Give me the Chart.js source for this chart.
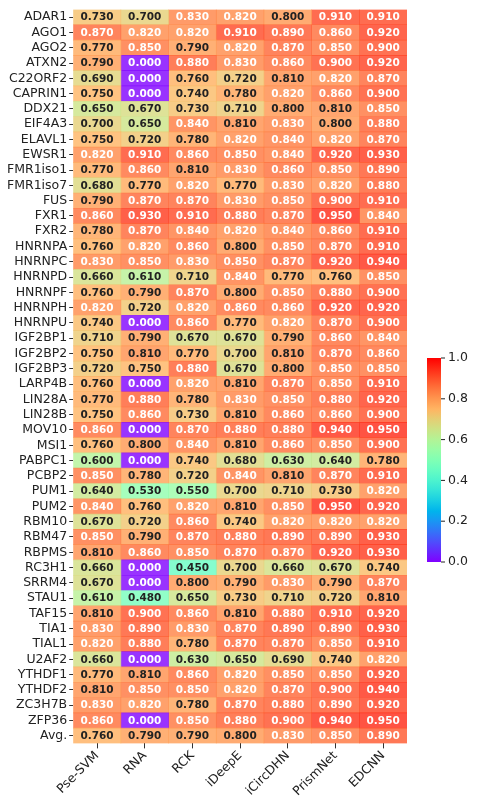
<!DOCTYPE html>
<html><head><meta charset="utf-8">
<script src="https://cdn.jsdelivr.net/npm/chart.js@4/dist/chart.umd.min.js"></script>
<style>html,body{margin:0;padding:0;background:#fff}#w{width:482px;height:799px}</style>
</head><body><div id="w"><canvas id="c"></canvas></div>
<script>
const rows=["ADAR1","AGO1","AGO2","ATXN2","C22ORF2","CAPRIN1","DDX21","EIF4A3","ELAVL1","EWSR1","FMR1iso1","FMR1iso7","FUS","FXR1","FXR2","HNRNPA","HNRNPC","HNRNPD","HNRNPF","HNRNPH","HNRNPU","IGF2BP1","IGF2BP2","IGF2BP3","LARP4B","LIN28A","LIN28B","MOV10","MSI1","PABPC1","PCBP2","PUM1","PUM2","RBM10","RBM47","RBPMS","RC3H1","SRRM4","STAU1","TAF15","TIA1","TIAL1","U2AF2","YTHDF1","YTHDF2","ZC3H7B","ZFP36","Avg."];
const methods=["Pse-SVM","RNA","RCK","iDeepE","iCircDHN","PrismNet","EDCNN"];
const PseSVM=[.73,.87,.77,.79,.69,.75,.65,.70,.75,.82,.77,.68,.79,.86,.78,.76,.83,.66,.76,.82,.74,.71,.75,.72,.76,.77,.75,.86,.76,.60,.85,.64,.84,.67,.85,.81,.66,.67,.61,.81,.83,.82,.66,.77,.81,.83,.86,.76];
const RNA=[.70,.82,.85,0,0,0,.67,.65,.72,.91,.86,.77,.87,.93,.87,.82,.85,.61,.79,.72,0,.79,.81,.75,0,.88,.86,0,.80,0,.78,.53,.76,.72,.79,.86,0,0,.48,.90,.89,.88,0,.81,.85,.82,0,.79];
const RCK=[.83,.82,.79,.88,.76,.74,.73,.84,.78,.86,.81,.82,.87,.91,.84,.86,.83,.71,.87,.82,.86,.67,.77,.88,.82,.78,.73,.87,.84,.74,.72,.55,.82,.86,.87,.85,.45,.80,.65,.86,.83,.78,.63,.86,.85,.78,.85,.79];
const iDeepE=[.82,.91,.82,.83,.72,.78,.71,.81,.82,.85,.83,.77,.83,.88,.82,.80,.85,.84,.80,.86,.77,.67,.70,.67,.81,.83,.81,.88,.81,.68,.84,.70,.81,.74,.88,.87,.70,.79,.73,.81,.87,.87,.65,.82,.82,.87,.88,.80];
const iCircDHN=[.80,.89,.87,.86,.81,.82,.80,.83,.84,.84,.86,.83,.85,.87,.84,.85,.87,.77,.85,.86,.82,.79,.81,.80,.87,.85,.86,.88,.86,.63,.81,.71,.85,.82,.89,.87,.66,.83,.71,.88,.89,.87,.69,.85,.87,.88,.90,.83];
const PrismNet=[.91,.86,.85,.90,.82,.86,.81,.80,.82,.92,.85,.82,.90,.95,.86,.87,.92,.76,.88,.92,.87,.86,.87,.85,.85,.88,.86,.94,.85,.64,.87,.73,.95,.82,.89,.92,.67,.79,.72,.91,.89,.85,.74,.85,.90,.89,.94,.85];
const EDCNN=[.91,.92,.90,.92,.87,.90,.85,.88,.87,.93,.89,.88,.91,.84,.91,.91,.94,.85,.90,.92,.90,.84,.86,.85,.91,.92,.90,.95,.90,.78,.91,.82,.92,.82,.93,.93,.74,.87,.81,.92,.93,.91,.82,.92,.94,.92,.95,.89];
const cols=[PseSVM,RNA,RCK,iDeepE,iCircDHN,PrismNet,EDCNN];
const cbTicks=["0.0","0.2","0.4","0.6","0.8","1.0"];

function rainbow(x,a){const r=Math.min(1,Math.abs(2*x-0.5)),g=Math.sin(Math.PI*x),b=Math.cos(Math.PI*x/2);
 return `rgba(${Math.round(r*255)},${Math.round(g*255)},${Math.round(Math.max(0,b)*255)},${a})`;}
const FONT="'DejaVu Sans'";
const datasets=cols.map((vals,i)=>({label:methods[i],data:vals.map(()=>[i,i+1]),vals,
 backgroundColor:ctx=>rainbow(vals[ctx.dataIndex],0.8),borderWidth:0,grouped:false,barPercentage:1,categoryPercentage:1}));

const plug={id:'p',afterDatasetsDraw(ch){const c=ch.ctx;c.save();
 c.font=`bold 10.5px ${FONT}`;c.textAlign='center';c.textBaseline='middle';
 ch.data.datasets.forEach((ds,di)=>{ch.getDatasetMeta(di).data.forEach((el,j)=>{const v=ds.vals[j];
  c.fillStyle=(v===0||v>=0.815)?'#fff':'#222';c.fillText(v.toFixed(3),(el.x+el.base)/2,el.y+0.5);});});
 const x0=427,w=14,yt=358,yb=562;
 const g=c.createLinearGradient(0,yb,0,yt);for(let k=0;k<=20;k++)g.addColorStop(k/20,rainbow(k/20,1));
 c.fillStyle=g;c.fillRect(x0,yt,w,yb-yt);
 c.font=`12.5px ${FONT}`;c.textAlign='left';c.fillStyle='#222';c.strokeStyle='#222';
 cbTicks.forEach((t,k)=>{const y=yb-(yb-yt)*k/5;c.beginPath();c.moveTo(x0+w,y);c.lineTo(x0+w+4,y);c.stroke();c.fillText(t,x0+w+7,y);});
 c.restore();}};

new Chart(document.getElementById('c'),{type:'bar',data:{labels:rows,datasets},
 options:{indexAxis:'y',responsive:true,maintainAspectRatio:false,animation:false,
  layout:{padding:{top:5,right:75,left:5,bottom:0}},
  plugins:{legend:{display:false},tooltip:{enabled:false}},
  scales:{
   x:{type:'linear',min:0,max:7,afterBuildTicks:a=>{a.ticks=methods.map((m,i)=>({value:i+0.5}));},
    ticks:{autoSkip:false,maxRotation:45,minRotation:45,color:'#222',font:{family:FONT,size:12.5},padding:0,callback:(v)=>methods[Math.floor(v)]},
    grid:{drawOnChartArea:false,tickLength:5,color:'#333'},border:{display:false}},
   y:{ticks:{autoSkip:false,color:'#222',font:{family:FONT,size:12.5},padding:2},
    grid:{drawOnChartArea:false,tickLength:4,color:'#333',offset:false},border:{display:false}}
  }},plugins:[plug]});
</script></body></html>
